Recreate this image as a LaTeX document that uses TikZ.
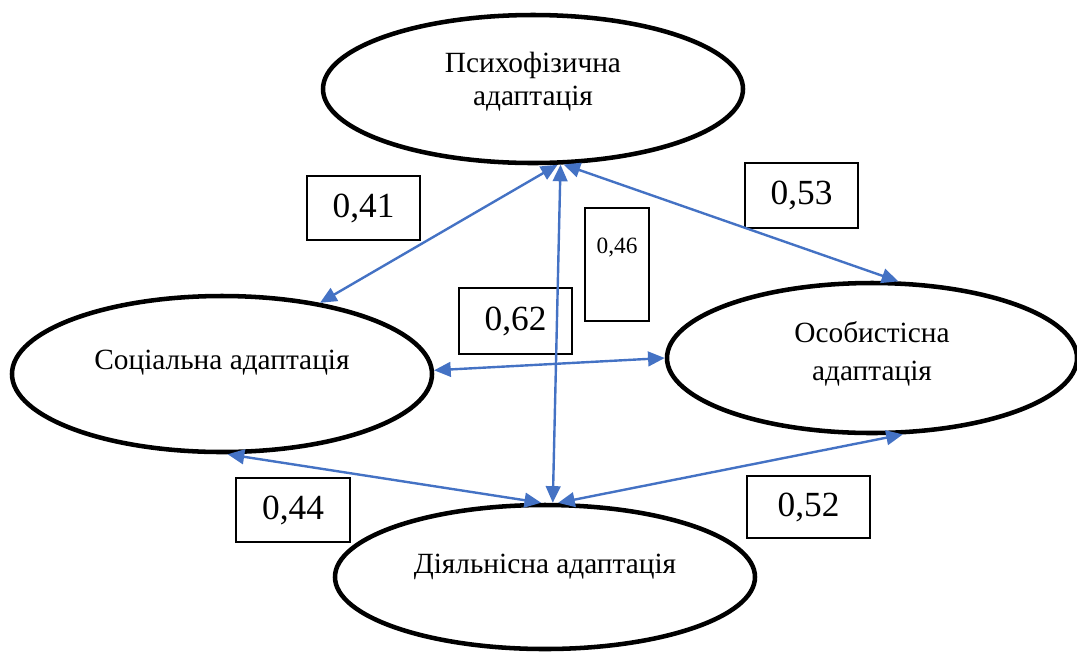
\documentclass[tikz,border=0pt]{standalone}
\usepackage{fontspec}
\setmainfont{Liberation Serif}
\usepackage{tikz}
\usetikzlibrary{arrows.meta,shapes.geometric}

\definecolor{linkblue}{RGB}{68,114,196}

\begin{document}
\begin{tikzpicture}[
    x=0.75pt, y=-0.75pt,
    ell/.style={ellipse, draw, line width=3.4pt, inner sep=0pt,
                font=\fontsize{22}{25}\selectfont},
    num/.style={rectangle, draw, line width=1.1pt, inner sep=0pt,
                minimum width=84.75pt, minimum height=48pt,
                font=\fontsize{26.5}{30}\selectfont},
    link/.style={{Triangle[length=12.5pt,width=11pt]}-{Triangle[length=12.5pt,width=11pt]},
                 draw=linkblue, line width=1.8pt},
  ]
  \useasboundingbox (0,0) rectangle (1077,651);

  %% ===== виды адаптации =====
  \node[ell, minimum width=315pt, minimum height=111pt,
        text height=10pt, text depth=35.5pt] (psy) at (533,89)
    {\begin{tabular}[t]{@{}c@{}}Психофізична\\адаптація\end{tabular}};
  \node[ell, minimum width=315pt, minimum height=117pt,
        text height=15pt, text depth=22.5pt] (soc) at (222,374)
    {Соціальна адаптація};
  \node[ell, minimum width=307.5pt, minimum height=112.5pt,
        text height=10pt, text depth=34pt] (pers) at (872,358)
    {\begin{tabular}[t]{@{}c@{}}Особистісна\\[3.5pt]адаптація\end{tabular}};
  \node[ell, minimum width=315pt, minimum height=108pt,
        text height=15pt, text depth=21pt] (act) at (545,577)
    {Діяльнісна адаптація};

  %% ===== коэффициенты =====
  \node[num] (k41) at (363.5,208) {0,41};
  \node[num, minimum height=48.75pt] (k53) at (801.5,195.5) {0,53};
  \node[num, minimum width=48pt, font=\fontsize{17.5}{20}\selectfont,
        text height=33.75pt, text depth=51pt] (k46) at (617,264.5) {0,46};
  \node[num, minimum height=49.5pt] (k62) at (515.5,321) {0,62};
  \node[num, minimum width=85.5pt] (k44) at (293,510) {0,44};
  \node[num, minimum width=92.25pt, minimum height=46.5pt] (k52) at (808.5,507) {0,52};

  %% ===== связи =====
  \draw[link] (soc.36) -- (psy.-72);
  \draw[link] (psy.-68) -- (pers.71);
  \draw[link] (act.84) -- (psy.-70);
  \draw[link] (soc.1) -- (pers.180);
  \draw[link] (soc.-86) -- (act.93);
  \draw[link] (act.80) -- (pers.-68);

\end{tikzpicture}
\end{document}
